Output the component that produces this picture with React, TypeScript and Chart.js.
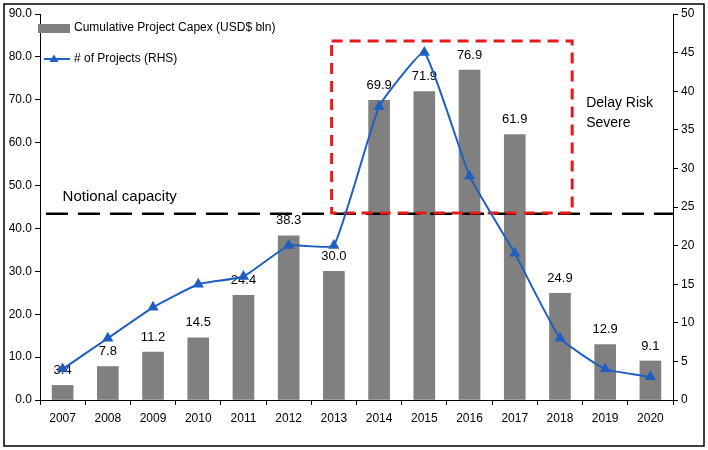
import React, { useEffect, useRef } from "react";
import { Chart, registerables } from "chart.js";

Chart.register(...registerables);

const years = ["2007","2008","2009","2010","2011","2012","2013","2014","2015","2016","2017","2018","2019","2020"];
const capex = [3.4, 7.8, 11.2, 14.5, 24.4, 38.3, 30.0, 69.9, 71.9, 76.9, 61.9, 24.9, 12.9, 9.1];
const projects = [4, 8, 12, 15, 16, 20, 20, 38, 45, 29, 19, 8, 4, 3];
const capexLabel = "Cumulative Project Capex (USD$ bln)";
const projectsLabel = "# of Projects (RHS)";
const notionalCapacity = 43.4;
const notionalText = "Notional capacity";
const delayText = ["Delay Risk", "Severe"];
const delayBox = { x0: 5.95, x1: 11.27, yTop: 83.7, yBottom: 43.6 };

const FONT = "'Liberation Sans', Arial, sans-serif";
const BLUE = "#1f5fc0";
const GRAY = "#808080";

const overlay = {
  id: "overlay",
  afterDatasetDraw(chart: any, args: any) {
    if (args.index !== 1) return;
    const ctx = chart.ctx;
    const x = chart.scales.x;
    const y = chart.scales.y;
    const area = chart.chartArea;
    ctx.save();
    // bar value labels
    ctx.fillStyle = "#000";
    ctx.font = `13px ${FONT}`;
    ctx.textAlign = "center";
    ctx.textBaseline = "middle";
    capex.forEach((v, i) => {
      ctx.fillText(v.toFixed(1), x.getPixelForValue(i), y.getPixelForValue(v) - 15);
    });
    // notional capacity line
    const ny = y.getPixelForValue(notionalCapacity);
    ctx.strokeStyle = "#000";
    ctx.lineWidth = 2.5;
    ctx.setLineDash([22, 10]);
    ctx.beginPath();
    ctx.moveTo(area.left + 6, ny);
    ctx.lineTo(area.right, ny);
    ctx.stroke();
    ctx.font = `15px ${FONT}`;
    ctx.textAlign = "left";
    ctx.fillText(notionalText, x.getPixelForValue(0), ny - 17);
    // red box
    ctx.strokeStyle = "#e41b1b";
    ctx.lineWidth = 3;
    ctx.setLineDash([11, 7]);
    const bx0 = x.getPixelForValue(delayBox.x0);
    const bx1 = x.getPixelForValue(delayBox.x1);
    const by0 = y.getPixelForValue(delayBox.yTop);
    const by1 = y.getPixelForValue(delayBox.yBottom);
    ctx.strokeRect(bx0, by0, bx1 - bx0, by1 - by0);
    ctx.setLineDash([]);
    ctx.fillStyle = "#000";
    ctx.font = `14px ${FONT}`;
    ctx.fillText(delayText[0], bx1 + 14, 103);
    ctx.fillText(delayText[1], bx1 + 14, 123);
    ctx.restore();
  },
  afterDraw(chart: any) {
    const ctx = chart.ctx;
    ctx.save();
    // legend
    ctx.fillStyle = GRAY;
    ctx.fillRect(38, 24, 32, 9);
    ctx.fillStyle = "#000";
    ctx.font = `12px ${FONT}`;
    ctx.textAlign = "left";
    ctx.textBaseline = "middle";
    ctx.fillText(capexLabel, 74, 28);
    ctx.strokeStyle = BLUE;
    ctx.lineWidth = 2;
    ctx.beginPath();
    ctx.moveTo(44, 59);
    ctx.lineTo(70, 59);
    ctx.stroke();
    ctx.fillStyle = BLUE;
    ctx.beginPath();
    ctx.moveTo(54, 54.5);
    ctx.lineTo(58.5, 62);
    ctx.lineTo(49.5, 62);
    ctx.closePath();
    ctx.fill();
    ctx.fillStyle = "#000";
    ctx.fillText(projectsLabel, 74, 59);
    // frame
    ctx.strokeStyle = "#000";
    ctx.lineWidth = 1.5;
    ctx.strokeRect(4, 4, 700, 442);
    ctx.restore();
  },
};

export default function App() {
  const ref = useRef<HTMLCanvasElement>(null);
  useEffect(() => {
    if (!ref.current) return;
    const chart = new Chart(ref.current, {
      type: "bar",
      data: {
        labels: years,
        datasets: [
          {
            type: "line",
            label: projectsLabel,
            data: projects,
            yAxisID: "y1",
            borderColor: BLUE,
            backgroundColor: BLUE,
            borderWidth: 2,
            pointStyle: "triangle",
            pointRadius: 4.5,
            pointBackgroundColor: BLUE,
            pointBorderColor: BLUE,
            tension: 0.12,
            order: 0,
          } as any,
          {
            type: "bar",
            label: capexLabel,
            data: capex,
            yAxisID: "y",
            backgroundColor: GRAY,
            barThickness: 21,
            order: 1,
          },
        ],
      },
      plugins: [overlay],
      options: {
        responsive: false,
        animation: false,
        layout: { padding: { top: 14, left: 0, right: 0, bottom: 0 } },
        plugins: { legend: { display: false }, tooltip: { enabled: false } },
        scales: {
          x: {
            offset: true,
            grid: { display: true, offset: true, drawOnChartArea: false, drawTicks: true, tickLength: 5, color: "#000" },
            border: { color: "#000", width: 1 },
            ticks: { color: "#000", font: { family: FONT, size: 12 }, padding: 6, maxRotation: 0, autoSkip: false },
            afterFit(s: any) { s.height = 50; },
          },
          y: {
            position: "left",
            min: 0,
            max: 90,
            grid: { display: true, drawOnChartArea: false, drawTicks: true, tickLength: 5, color: "#000" },
            border: { color: "#000", width: 1 },
            ticks: { stepSize: 10, color: "#000", font: { family: FONT, size: 12 }, padding: 3, callback: (v: any) => Number(v).toFixed(1) },
            afterFit(s: any) { s.width = 40; },
          },
          y1: {
            position: "right",
            min: 0,
            max: 50,
            grid: { display: true, drawOnChartArea: false, drawTicks: true, tickLength: 5, color: "#000" },
            border: { color: "#000", width: 1 },
            ticks: { stepSize: 5, color: "#000", font: { family: FONT, size: 12 }, padding: 3 },
            afterFit(s: any) { s.width = 35; },
          },
        },
      },
    });
    return () => chart.destroy();
  }, []);
  return (
    <div style={{ position: "fixed", left: 0, top: 0, width: 708, height: 450, background: "#fff" }}>
      <canvas ref={ref} width={708} height={450} />
    </div>
  );
}
